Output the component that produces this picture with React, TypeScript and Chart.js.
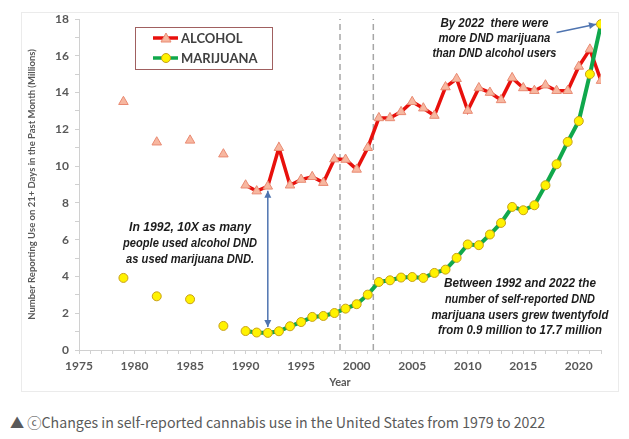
import React, { useEffect, useRef } from 'react';
import { Chart, registerables } from 'chart.js';
Chart.register(...registerables);

const lineYears = [1990, 1991, 1992, 1993, 1994, 1995, 1996, 1997, 1998, 1999, 2000, 2001, 2002, 2003, 2004, 2005, 2006, 2007, 2008, 2009, 2010, 2011, 2012, 2013, 2014, 2015, 2016, 2017, 2018, 2019, 2020, 2021, 2022];
const alcohol = [8.96, 8.64, 8.9, 11.0, 8.96, 9.27, 9.42, 9.1, 10.38, 10.36, 9.82, 11.0, 12.62, 12.62, 12.95, 13.5, 13.15, 12.75, 14.3, 14.75, 13.02, 14.25, 14.0, 13.6, 14.8, 14.25, 14.1, 14.4, 14.1, 14.1, 15.42, 16.35, 14.65];
const marijuana = [1.03, 0.95, 0.93, 1.02, 1.29, 1.52, 1.8, 1.85, 2.01, 2.25, 2.49, 3.01, 3.7, 3.79, 3.94, 3.97, 3.92, 4.19, 4.37, 5.01, 5.74, 5.7, 6.28, 6.91, 7.78, 7.6, 7.87, 8.96, 10.1, 11.32, 12.45, 15.0, 17.72];
const earlyYears = [1979, 1982, 1985, 1988];
const alcoholEarly = [13.5, 11.3, 11.4, 10.65];
const marijuanaEarly = [3.92, 2.92, 2.76, 1.31];
const dividerYears = [1998.5, 2001.5];
const yRange = [0, 18];

const note1 = ['In 1992, 10X as many', 'people used alcohol DND', 'as used marijuana DND.'];
const note2 = ['By 2022  there were', 'more DND marijuana', 'than DND alcohol users'];
const note3 = ['Between 1992 and 2022 the', 'number of self-reported DND', 'marijuana users grew twentyfold', 'from 0.9 million to 17.7 million'];
const legendLabels = ['ALCOHOL', 'MARIJUANA'];
const caption = '▲ ⓒChanges in self-reported cannabis use in the United States from 1979 to 2022';

const RED = '#E8100C';
const GREEN = '#10A84C';
const TRI_FILL = '#F7B7A0';
const TRI_BORDER = '#E98A72';
const YEL_FILL = '#FFF200';
const YEL_BORDER = '#C8A018';
const ARROW = '#4F74B0';
const FONT = 'Lato, "Open Sans", sans-serif';
const NOTE_FONT = '"Liberation Sans Narrow", "Liberation Sans", sans-serif';

function pts(xs: number[], ys: number[]) {
  return xs.map((x, i) => ({ x, y: ys[i] }));
}

function drawArrow(ctx: CanvasRenderingContext2D, x1: number, y1: number, x2: number, y2: number, both: boolean) {
  ctx.save();
  ctx.strokeStyle = ARROW;
  ctx.fillStyle = ARROW;
  ctx.lineWidth = 1.5;
  ctx.beginPath();
  ctx.moveTo(x1, y1);
  ctx.lineTo(x2, y2);
  ctx.stroke();
  const head = (tx: number, ty: number, fx: number, fy: number) => {
    const a = Math.atan2(ty - fy, tx - fx);
    const L = 7, W = 3.5;
    ctx.beginPath();
    ctx.moveTo(tx, ty);
    ctx.lineTo(tx - L * Math.cos(a) + W * Math.sin(a), ty - L * Math.sin(a) - W * Math.cos(a));
    ctx.lineTo(tx - L * Math.cos(a) - W * Math.sin(a), ty - L * Math.sin(a) + W * Math.cos(a));
    ctx.closePath();
    ctx.fill();
  };
  head(x2, y2, x1, y1);
  if (both) head(x1, y1, x2, y2);
  ctx.restore();
}

function fitText(ctx: CanvasRenderingContext2D, t: string, x: number, y: number, w: number) {
  const m = ctx.measureText(t).width;
  if (m > w) {
    ctx.save();
    ctx.translate(x, y);
    ctx.scale(w / m, 1);
    ctx.fillText(t, 0, 0);
    ctx.restore();
  } else {
    ctx.fillText(t, x, y);
  }
}

const annotPlugin = {
  id: 'annot',
  afterDatasetsDraw(chart: any) {
    const ctx: CanvasRenderingContext2D = chart.ctx;
    const xs = chart.scales.x;
    const ys = chart.scales.y;
    const X = (v: number) => xs.getPixelForValue(v);
    const Y = (v: number) => ys.getPixelForValue(v);

    drawArrow(ctx, X(1992), Y(1.25), X(1992), Y(8.66), true);
    drawArrow(ctx, X(2018.0), Y(17.27), X(2021.55), Y(17.72), false);

    ctx.save();
    ctx.fillStyle = '#1c1c1c';
    ctx.font = `italic bold 13px ${NOTE_FONT}`;
    ctx.textAlign = 'center';
    ctx.textBaseline = 'middle';
    const w1 = [122, 134, 128];
    const w2 = [108, 112, 124];
    const w3 = [152, 150, 177, 164];
    note1.forEach((t, i) => fitText(ctx, t, X(1985.0), Y(6.67) + i * 16, w1[i]));
    note2.forEach((t, i) => fitText(ctx, t, X(2012.4), Y(17.77) + i * 15, w2[i]));
    note3.forEach((t, i) => fitText(ctx, t, X(2014.7), Y(3.61) + i * 15.7, w3[i]));
    ctx.restore();

    // legend
    const L = chart.chartArea.left + 56;
    const T = chart.chartArea.top + 8;
    ctx.save();
    ctx.strokeStyle = '#A06060';
    ctx.lineWidth = 1;
    ctx.strokeRect(L + 0.5, T + 0.5, 137, 42);
    const rows = [
      { color: RED, fill: TRI_FILL, border: TRI_BORDER, tri: true },
      { color: GREEN, fill: YEL_FILL, border: YEL_BORDER, tri: false },
    ];
    rows.forEach((r, i) => {
      const cy = T + 11 + i * 20;
      ctx.strokeStyle = r.color;
      ctx.lineWidth = 3.5;
      ctx.beginPath();
      ctx.moveTo(L + 18, cy);
      ctx.lineTo(L + 43, cy);
      ctx.stroke();
      ctx.fillStyle = r.fill;
      ctx.strokeStyle = r.border;
      ctx.lineWidth = 1;
      ctx.beginPath();
      if (r.tri) {
        ctx.moveTo(L + 31, cy - 5);
        ctx.lineTo(L + 36, cy + 4);
        ctx.lineTo(L + 26, cy + 4);
        ctx.closePath();
      } else {
        ctx.arc(L + 31, cy, 4.5, 0, Math.PI * 2);
      }
      ctx.fill();
      ctx.stroke();
      ctx.fillStyle = '#404040';
      ctx.font = `bold 13px ${FONT}`;
      ctx.textAlign = 'left';
      ctx.textBaseline = 'middle';
      ctx.fillText(legendLabels[i], L + 46, cy + 1);
    });
    ctx.restore();
  },
};

export default function App() {
  const ref = useRef<HTMLCanvasElement>(null);
  useEffect(() => {
    const triPoint = { pointStyle: 'triangle', pointRadius: 5.5, pointBackgroundColor: TRI_FILL, pointBorderColor: TRI_BORDER, pointBorderWidth: 1 };
    const circPoint = { pointStyle: 'circle', pointRadius: 4.5, pointBackgroundColor: YEL_FILL, pointBorderColor: YEL_BORDER, pointBorderWidth: 1 };
    const dividers = dividerYears.map((yr) => ({
      data: [{ x: yr, y: yRange[0] }, { x: yr, y: yRange[1] }],
      showLine: true,
      borderColor: '#A6A6A6',
      borderWidth: 1.5,
      borderDash: [6, 4],
      pointRadius: 0,
      order: 5,
    }));
    const chart = new Chart(ref.current as HTMLCanvasElement, {
      type: 'scatter',
      data: {
        datasets: [
          ...dividers,
          { data: pts(lineYears, alcohol), showLine: true, borderColor: RED, borderWidth: 3.5, ...triPoint, order: 2 },
          { data: pts(earlyYears, alcoholEarly), showLine: false, ...triPoint, order: 3 },
          { data: pts(lineYears, marijuana), showLine: true, borderColor: GREEN, borderWidth: 4, ...circPoint, order: 0 },
          { data: pts(earlyYears, marijuanaEarly), showLine: false, ...circPoint, order: 1 },
        ] as any,
      },
      options: {
        animation: false,
        responsive: false,
        maintainAspectRatio: false,
        layout: { padding: { left: 22, right: 28, top: 19, bottom: 0 } },
        plugins: { legend: { display: false }, tooltip: { enabled: false } },
        scales: {
          x: {
            type: 'linear',
            min: 1975,
            max: 2022,
            afterFit: (s: any) => { s.height = 45; },
            ticks: {
              stepSize: 1,
              autoSkip: false,
              maxRotation: 0,
              padding: 5,
              color: '#595959',
              font: { family: FONT, size: 12, weight: 'bold' },
              callback: (v: any) => (Number(v) % 5 === 0 ? String(v) : ''),
            },
            grid: { drawOnChartArea: false, tickLength: 4, color: '#D0D0D0' },
            border: { color: '#D0D0D0' },
            title: { display: true, text: 'Year', color: '#595959', font: { family: FONT, size: 11, weight: 'bold' }, padding: { top: 0, bottom: 6 } },
          },
          y: {
            min: yRange[0],
            max: yRange[1],
            afterFit: (s: any) => { s.width = 57; },
            ticks: {
              stepSize: 1,
              autoSkip: false,
              padding: 6,
              color: '#595959',
              font: { family: FONT, size: 12, weight: 'bold' },
              callback: (v: any) => (Number(v) % 2 === 0 ? String(v) : ''),
            },
            grid: { drawOnChartArea: false, tickLength: 4, color: '#D0D0D0' },
            border: { color: '#D0D0D0' },
            title: { display: true, text: 'Number Reporting Use on 21+ Days in the Past Month (Millions)', color: '#595959', font: { family: FONT, size: 9.5, weight: 'bold' }, padding: { top: 4, bottom: 0 } },
          },
        },
      } as any,
      plugins: [annotPlugin],
    });
    return () => chart.destroy();
  }, []);

  return (
    <div style={{ position: 'absolute', left: 0, top: 0, width: 629, height: 439, background: '#fff', overflow: 'hidden' }}>
      <div style={{ position: 'absolute', left: 21, top: 12, width: 596, height: 378, border: '1px solid #EBEBEB' }} />
      <canvas ref={ref} width={629} height={395} style={{ position: 'absolute', left: 0, top: 0, width: 629, height: 395 }} />
      <div style={{ position: 'absolute', left: 10, top: 411, fontFamily: '"Noto Sans CJK KR", "Noto Sans", sans-serif', fontSize: 14.2, color: '#5a5a5a', whiteSpace: 'nowrap', lineHeight: '22px' }}>
        {caption}
      </div>
    </div>
  );
}
